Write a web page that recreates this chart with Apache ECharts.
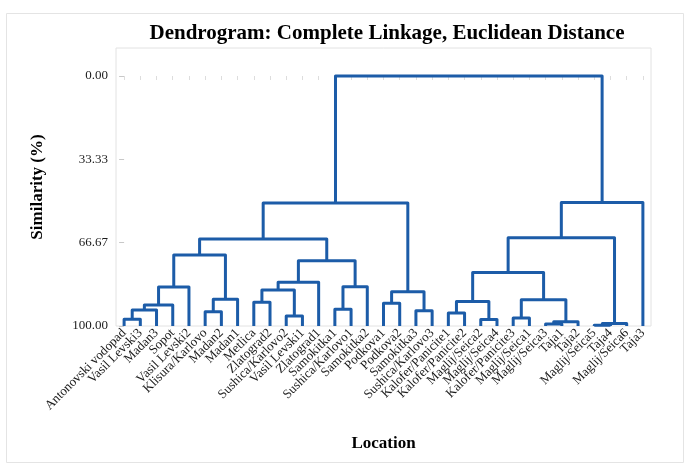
<!DOCTYPE html>
<html>
<head>
<meta charset="utf-8">
<script src="https://cdn.jsdelivr.net/npm/echarts@6/dist/echarts.min.js"></script>
<style>
  html, body { margin: 0; padding: 0; background: #fff; }
  #chart { width: 700px; height: 468px; }
</style>
</head>
<body>
<div id="chart"></div>
<script>
// leaves, left to right
var leaves = [
  'Antonovski vodopad', 'Vasil Levski3', 'Madan3', 'Sopot', 'Vasil Levski2',
  'Klisura/Karlovo', 'Madan2', 'Madan1', 'Metlica', 'Zlatograd2',
  'Sushica/Karlovo2', 'Vasil Levski1', 'Zlatograd1', 'Samokitka1', 'Sushica/Karlovo1',
  'Samokitka2', 'Podkova1', 'Podkova2', 'Samokitka3', 'Sushica/Karlovo3',
  'Kalofer/Panicite1', 'Kalofer/Panicite2', 'Maglij/Seica2', 'Maglij/Seica4', 'Kalofer/Panicite3',
  'Maglij/Seica1', 'Maglij/Seica3', 'Taja1', 'Taja2', 'Maglij/Seica5',
  'Taja4', 'Maglij/Seica6', 'Taja3'
]

// merges: [left node, right node, similarity %]; leaves are 0..32, new nodes 33, 34, ...
var merges = [
  [0, 1, 97.3], [33, 2, 93.6], [34, 3, 91.6], [35, 4, 84.4],
  [5, 6, 94.3], [37, 7, 89.3], [36, 38, 71.6],
  [8, 9, 90.5], [10, 11, 96.0], [40, 41, 85.6], [42, 12, 82.5],
  [13, 14, 93.3], [44, 15, 84.3], [43, 45, 73.9], [39, 46, 65.2],
  [16, 17, 90.9], [18, 19, 93.9], [48, 49, 86.3], [47, 50, 50.8],
  [20, 21, 94.8], [22, 23, 97.4], [52, 53, 90.2],
  [24, 25, 96.8], [26, 27, 99.2], [56, 28, 98.3], [55, 57, 89.5], [54, 58, 78.6],
  [29, 30, 99.7], [60, 31, 99.0], [59, 61, 64.7], [62, 32, 50.6],
  [51, 63, 0]
]

var yTicks = [0, 33.33, 66.67, 100]

// node positions: x = leaf index (or midpoint of children), y = similarity
var nodeX = leaves.map(function (n, i) { return i })
var nodeY = leaves.map(function () { return 100 })
var links = []
merges.forEach(function (m) {
  var a = m[0], b = m[1]
  links.push([nodeX[a], nodeX[b], nodeY[a], nodeY[b], m[2]])
  nodeX.push((nodeX[a] + nodeX[b]) / 2)
  nodeY.push(m[2])
})

var serif = 'Liberation Serif'
var chart = echarts.init(document.getElementById('chart'))
chart.setOption({
  backgroundColor: '#fff',
  animation: false,
  title: {
    text: 'Dendrogram: Complete Linkage, Euclidean Distance',
    left: 382,
    top: 18,
    textAlign: 'center',
    textStyle: { fontFamily: serif, fontWeight: 'bold', fontSize: 21, color: '#000' }
  },
  graphic: [{
    type: 'rect',
    shape: { x: 6.5, y: 13.5, width: 677, height: 449 },
    style: { fill: 'none', stroke: '#e4e4e4', lineWidth: 1 },
    silent: true
  }],
  grid: {
    left: 116, right: 49, top: 48, bottom: 142,
    show: true, borderColor: '#e2e2e2', borderWidth: 1
  },
  xAxis: [{
    type: 'category',
    data: leaves,
    boundaryGap: true,
    name: 'Location',
    nameLocation: 'middle',
    nameGap: 109,
    nameTextStyle: { fontFamily: serif, fontWeight: 'bold', fontSize: 17, color: '#000' },
    axisLine: { show: false },
    axisTick: { show: true, alignWithLabel: true, length: 4, lineStyle: { color: '#dddddd' } },
    axisLabel: {
      interval: 0, rotate: 45, margin: 5,
      fontFamily: serif, fontSize: 13, color: '#1a1a1a'
    },
    splitLine: { show: false }
  }, {
    type: 'value',
    min: -0.5,
    max: leaves.length - 0.5,
    show: false
  }],
  yAxis: {
    type: 'value',
    inverse: true,
    min: -11.2,
    max: 100,
    name: 'Similarity (%)',
    nameLocation: 'middle',
    nameGap: 70,
    nameTextStyle: { fontFamily: serif, fontWeight: 'bold', fontSize: 17, color: '#000' },
    axisLine: { show: false },
    axisTick: { show: true, inside: false, customValues: yTicks, length: 5, lineStyle: { color: '#c8c8c8' } },
    axisLabel: {
      customValues: yTicks,
      formatter: function (v) { return v.toFixed(2) },
      margin: 8,
      fontFamily: serif, fontSize: 13, color: '#1a1a1a'
    },
    splitLine: { show: false },
    minorTick: { show: false },
    minorSplitLine: { show: false }
  },
  series: [{
    type: 'custom',
    xAxisIndex: 1,
    yAxisIndex: 0,
    data: links,
    renderItem: function (params, api) {
      var p1 = api.coord([api.value(0), api.value(2)])
      var p2 = api.coord([api.value(0), api.value(4)])
      var p3 = api.coord([api.value(1), api.value(4)])
      var p4 = api.coord([api.value(1), api.value(3)])
      return {
        type: 'polyline',
        shape: { points: [p1, p2, p3, p4] },
        style: { stroke: '#1c5ca8', lineWidth: 3, fill: 'none', lineJoin: 'round' }
      }
    }
  }]
})
</script>
</body>
</html>
